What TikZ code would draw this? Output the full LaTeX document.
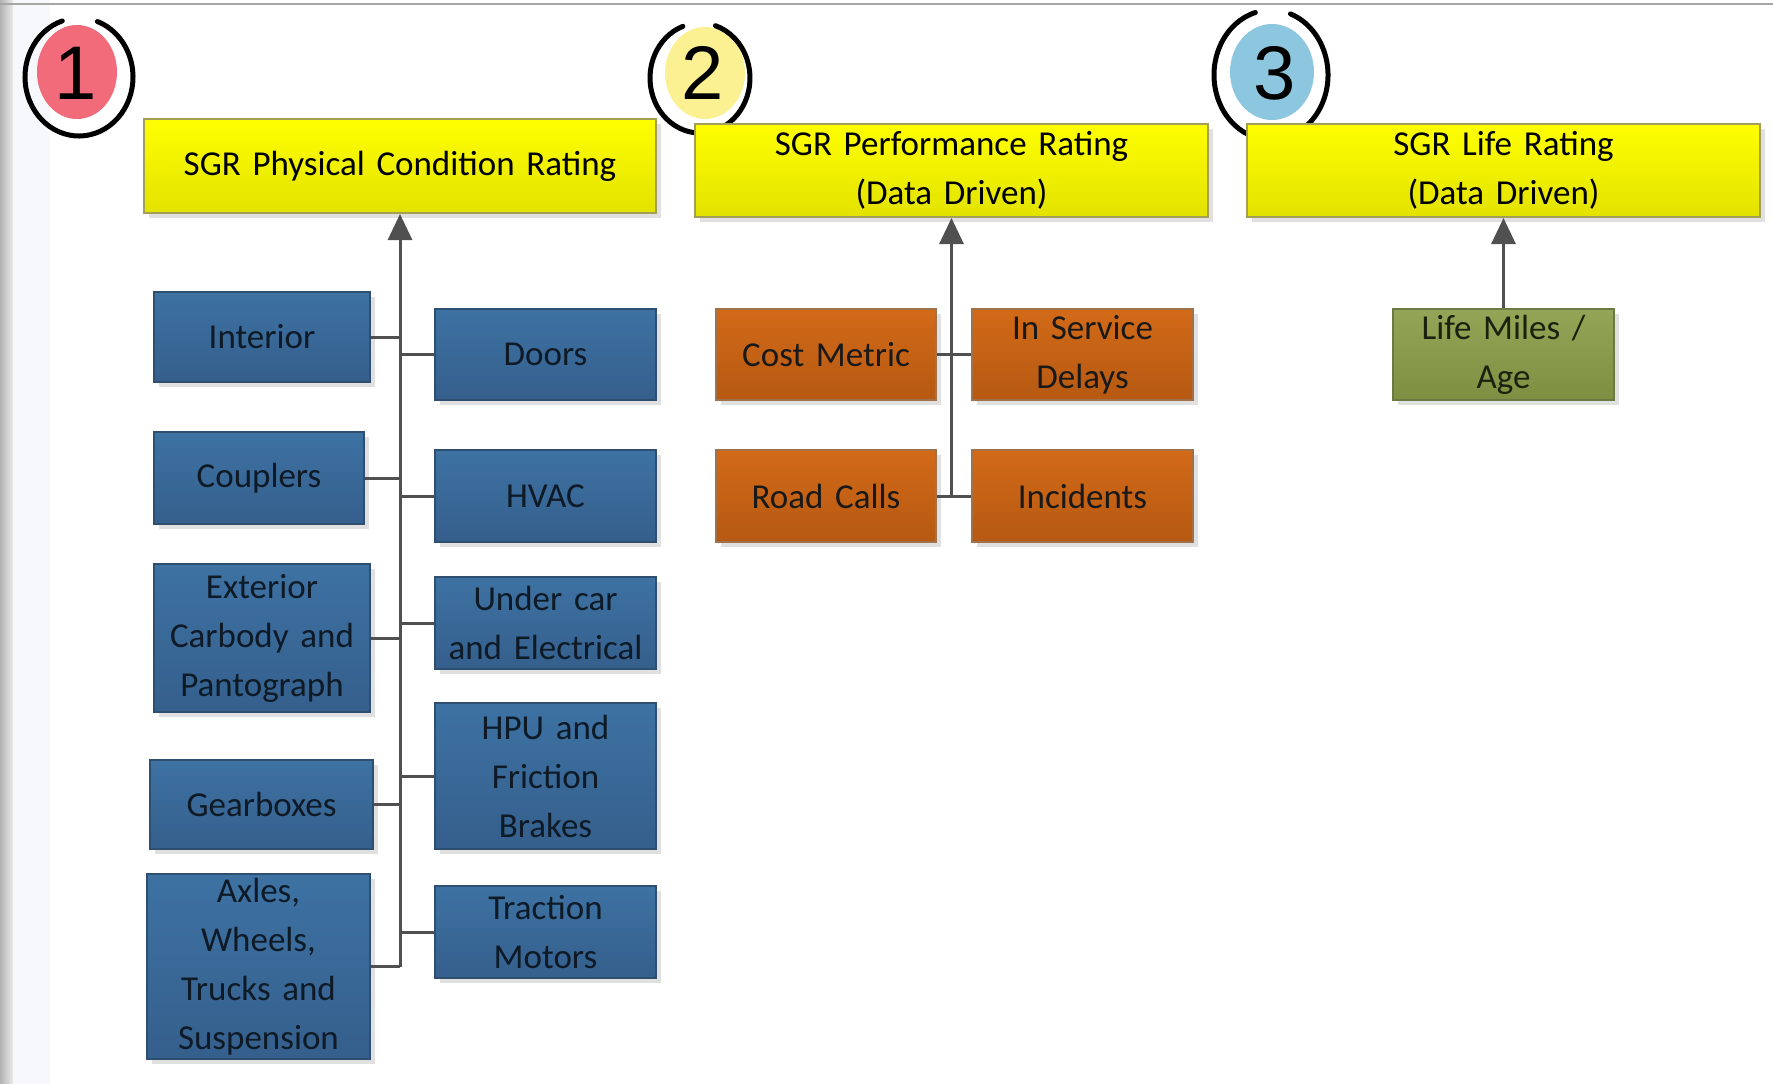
\documentclass[tikz,border=0pt]{standalone}
\usepackage{fontspec}
\setmainfont{Carlito}
\newfontfamily\digitfont{Liberation Sans}
\usetikzlibrary{arrows.meta,shadows,calc}

\definecolor{yellowtop}{HTML}{FFFF00}
\definecolor{yellowbot}{HTML}{E2E200}
\definecolor{yellowline}{HTML}{A39E58}
\definecolor{bluetop}{HTML}{3D72A3}
\definecolor{bluebot}{HTML}{355F8C}
\definecolor{blueline}{HTML}{2F4F70}
\definecolor{bluetext}{HTML}{0E1A26}
\definecolor{orangetop}{HTML}{D26A18}
\definecolor{orangebot}{HTML}{B65912}
\definecolor{orangeline}{HTML}{A0724C}
\definecolor{greentop}{HTML}{93A556}
\definecolor{greenbot}{HTML}{7E8F42}
\definecolor{greenline}{HTML}{6B7A45}
\definecolor{greentext}{HTML}{1A220E}
\definecolor{linkgray}{HTML}{505050}
\definecolor{badgepink}{HTML}{F26B7B}
\definecolor{badgeyellow}{HTML}{FBF193}
\definecolor{badgeblue}{HTML}{8CC7DF}
\definecolor{edgetint}{HTML}{F6F8FB}

\begin{document}
\begin{tikzpicture}[x=1pt,y=-1pt,
  box/.style={rectangle, line width=2pt, inner sep=0pt, align=center,
    font=\fontsize{35}{49}\selectfont,
    drop shadow={shadow xshift=5pt, shadow yshift=-5pt, opacity=0.12, fill=black}},
  size/.style 2 args={minimum width=#1, minimum height=#2},
  ratingbox/.style={box, top color=yellowtop, bottom color=yellowbot,
    draw=yellowline, text=black, size={513pt}{93pt}, text width=495pt},
  partbox/.style={box, top color=bluetop, bottom color=bluebot,
    draw=blueline, text=bluetext, text width=208pt},
  metricbox/.style={box, top color=orangetop, bottom color=orangebot,
    draw=orangeline, text=black!90, text width=208pt, size={221pt}{92pt}},
  lifebox/.style={box, top color=greentop, bottom color=greenbot,
    draw=greenline, text=greentext, text width=208pt, size={221pt}{91pt}},
  link/.style={draw=linkgray, line width=3pt},
  uparrow/.style={link, -{Triangle[length=26pt,width=24pt]}},
  ring/.style={draw=black, line width=5pt, line cap=round},
  digit/.style={font=\digitfont\fontsize{76}{76}\selectfont, text=black, inner sep=0pt}
]
\useasboundingbox (0,0) rectangle (1773,1084);
\fill[white] (0,0) rectangle (1773,1084);

% window edges
\shade[left color=black!30, right color=black!8] (0,0) rectangle (13,1084);
\fill[edgetint] (13,0) rectangle (50,1084);
\draw[black!35, line width=2pt] (0,4) -- (1773,4);

% numbered badges
\fill[badgepink] (77,72) ellipse [x radius=40pt, y radius=47pt];
\coordinate (c1) at (79,77);
\draw[ring] ([shift={(108:54pt and 59pt)}]c1) arc[start angle=108, end angle=430, x radius=54pt, y radius=59pt];
\node[digit] (n1) at (76,73) {1};

\fill[badgeyellow] (705,73) ellipse [x radius=40pt, y radius=46pt];
\coordinate (c2) at (700,78);
\draw[ring] ([shift={(110:50pt and 55pt)}]c2) arc[start angle=110, end angle=432, x radius=50pt, y radius=55pt];
\node[digit] (n2) at (703,73) {2};

\fill[badgeblue] (1272,72) ellipse [x radius=42pt, y radius=48pt];
\coordinate (c3) at (1271,75);
\draw[ring] ([shift={(106:57pt and 65pt)}]c3) arc[start angle=106, end angle=430, x radius=57pt, y radius=65pt];
\node[digit] (n3) at (1275,73) {3};

% rating headers
\node[ratingbox, size={512pt}{94pt}] (phys) at (400,166) {SGR Physical Condition Rating};
\node[ratingbox] (perf) at (951.5,170.5) {SGR Performance Rating\\(Data Driven)};
\node[ratingbox] (life) at (1503.5,170.5) {SGR Life Rating\\(Data Driven)};

% physical condition components, left column
\node[partbox, size={216pt}{90pt}] (interior) at (262,337) {Interior};
\node[partbox, size={210pt}{92pt}] (couplers) at (259,478) {Couplers};
\node[partbox, size={216pt}{148pt}] (exterior) at (262,638) {Exterior\\Carbody and\\Pantograph};
\node[partbox, size={223pt}{89pt}] (gearboxes) at (261.5,804.5) {Gearboxes};
\node[partbox, size={223pt}{185pt}] (axles) at (258.5,966.5) {Axles,\\Wheels,\\Trucks and\\Suspension};

% physical condition components, right column
\node[partbox, size={221pt}{91pt}] (doors) at (545.5,354.5) {Doors};
\node[partbox, size={221pt}{92pt}] (hvac) at (545.5,496) {HVAC};
\node[partbox, size={221pt}{92pt}] (undercar) at (545.5,623) {Under car\\and Electrical};
\node[partbox, size={221pt}{146pt}] (hpu) at (545.5,776) {HPU and\\Friction\\Brakes};
\node[partbox, size={221pt}{92pt}] (traction) at (545.5,932) {Traction\\Motors};

% performance metrics
\node[metricbox, size={220pt}{91pt}] (cost) at (826,354.5) {Cost Metric};
\node[metricbox, size={221pt}{91pt}] (delays) at (1082.5,354.5) {In Service\\Delays};
\node[metricbox, size={220pt}{92pt}] (roadcalls) at (826,496) {Road Calls};
\node[metricbox] (incidents) at (1082.5,496) {Incidents};

% life input
\node[lifebox] (miles) at (1503.5,354.5) {Life Miles /\\Age};

% trunk of the physical condition tree
\coordinate (physbase) at (phys.south |- axles.east);
\draw[link] (axles.east) -- (physbase);
\draw[uparrow] (physbase) -- (phys.south);
\foreach \n in {interior,couplers,exterior,gearboxes,doors,hvac,undercar,hpu,traction}
  \draw[link] (\n) -- (\n -| phys.south);

% trunk of the performance tree
\coordinate (perfbase) at (perf.south |- roadcalls.east);
\draw[uparrow] (perfbase) -- (perf.south);
\draw[link] (cost.east) -- (delays.west);
\draw[link] (roadcalls.east) -- (incidents.west);

% life rating input
\draw[uparrow] (miles.north) -- (life.south);
\end{tikzpicture}
\end{document}
